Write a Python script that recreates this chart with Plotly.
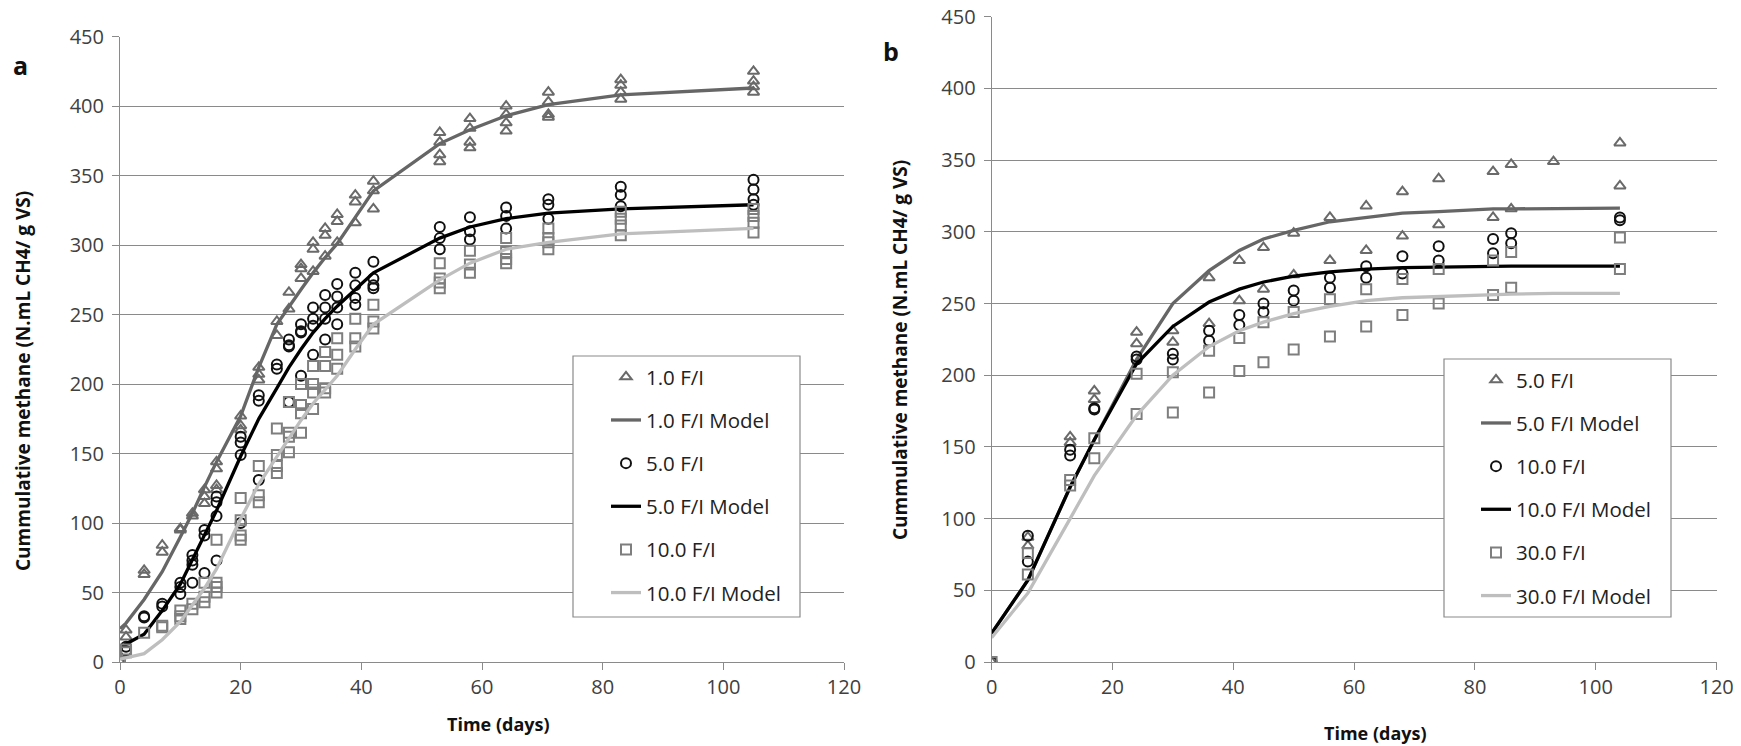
import plotly.graph_objects as go

# ---------------- Panel a data ----------------
A_DAYS = [0, 1, 4, 7, 10, 12, 14, 16, 20, 23, 26, 28, 30, 32, 34, 36, 39, 42, 53, 58, 64, 71, 83, 105]

A_FI1_OBS = [[0], [23, 18], [66, 63], [84, 79], [96, 95], [107, 105], [124, 119, 114],
             [144, 139, 127, 124], [177, 170, 167], [212, 207, 203], [245, 235], [266, 254],
             [286, 283, 276], [302, 297, 281], [312, 307, 292], [322, 317, 302], [336, 331, 316],
             [346, 339, 326], [381, 374, 365, 360], [391, 384, 374, 370], [400, 394, 388, 382],
             [410, 403, 394, 392], [419, 415, 410, 405], [425, 418, 414, 410]]
A_FI5_OBS = [[0], [11, 8], [33, 32], [42, 40], [57, 54, 49], [77, 73, 70, 57], [95, 91, 64],
             [119, 115, 105, 73], [162, 158, 149, 100], [192, 188, 131], [214, 211],
             [232, 228, 227, 187], [243, 238, 237, 206], [255, 247, 242, 221], [264, 255, 247, 232],
             [272, 263, 255, 243], [280, 271, 262, 257], [288, 276, 271, 269], [313, 305, 297],
             [320, 310, 304], [327, 321, 312], [333, 329, 319], [342, 336, 328], [347, 340, 333, 329]]
A_FI10_OBS = [[0], [9, 7], [21], [26, 25], [37, 33, 31], [42, 38], [57, 47, 43], [88, 57, 54, 50],
              [118, 102, 91, 88], [141, 120, 115], [168, 149, 141, 136], [187, 165, 162, 151],
              [200, 185, 179, 165], [213, 200, 194, 182], [223, 213, 197, 194], [233, 221, 211],
              [247, 233, 227], [257, 245, 240], [287, 276, 273, 269], [296, 286, 280],
              [305, 295, 290, 287], [312, 305, 302, 297], [324, 319, 314, 307], [326, 321, 316, 309]]

A_FI1_MODEL = [24, 28, 45, 65, 90, 107, 126, 144, 177, 212, 243, 256, 268, 280, 291, 301, 320, 339,
               373, 383, 393, 401, 408, 413]
A_FI5_MODEL = [10, 13, 20, 37, 56, 74, 92, 109, 148, 175, 197, 212, 225, 237, 247, 256, 268, 280,
               305, 313, 319, 323, 326, 329]
A_FI10_MODEL = [2, 3, 6, 16, 29, 41, 53, 67, 103, 128, 148, 161, 174, 186, 196, 206, 225, 243,
                275, 287, 297, 302, 308, 312]

# ---------------- Panel b data ----------------
B_DAYS = [0, 6, 13, 17, 24, 30, 36, 41, 45, 50, 56, 62, 68, 74, 83, 86, 93, 104]

B_FI5_OBS = [[0], [87, 81], [157, 153], [189, 183], [230, 222], [231, 223], [268, 236], [280, 252],
             [289, 260], [299, 270], [310, 280], [318, 287], [328, 297], [337, 305], [342, 310],
             [347, 316], [349], [362, 332]]
B_FI10_OBS = [[0], [88, 70], [148, 144], [177, 176], [213, 211], [215, 211], [231, 224], [242, 235],
              [250, 244], [259, 252], [268, 261], [276, 268], [283, 271], [290, 280], [295, 285],
              [299, 292], [], [310, 308]]
B_FI30_OBS = [[0], [76, 61], [127, 123], [156, 142], [201, 173], [202, 174], [217, 188], [226, 203],
              [237, 209], [244, 218], [253, 227], [260, 234], [267, 242], [274, 250], [280, 256],
              [286, 261], [], [296, 274]]

B_FI5_MODEL = [20, 57, 122, 155, 211, 250, 273, 287, 295, 301, 307, 310, 313, 314, 316, 316, 316, 316.5]
B_FI10_MODEL = [20, 57, 122, 155, 208, 234, 251, 260, 265, 269, 272, 274, 275, 275.5, 276, 276, 276, 276]
B_FI30_MODEL = [17, 48, 100, 130, 172, 200, 220, 231, 237, 243, 248, 252, 254, 255, 256, 256.5, 257, 257]

A_NAMES = ["1.0 F/I", "5.0 F/I", "10.0 F/I"]
B_NAMES = ["5.0 F/I", "10.0 F/I", "30.0 F/I"]

X_TICKS = [0, 20, 40, 60, 80, 100, 120]
Y_TICKS = [0, 50, 100, 150, 200, 250, 300, 350, 400, 450]

W, H = 1741, 746
FONT = "Open Sans"


def flatten(days, obs):
    xs, ys = [], []
    for d, reps in zip(days, obs):
        for v in reps:
            xs.append(d)
            ys.append(v)
    return xs, ys


MARKERS = [("triangle-up-open", "#6a6a6a"), ("circle-open", "#111111"), ("square-open", "#7e7e7e")]
LINE_COLORS = ["#666666", "#000000", "#bebebe"]

fig = go.Figure()


def add_panel(days, obs_list, model_list, names, xa, ya, legend):
    for i in range(3):
        xs, ys = flatten(days, obs_list[i])
        sym, col = MARKERS[i]
        fig.add_trace(go.Scatter(
            x=xs, y=ys, mode="markers", name=names[i], xaxis=xa, yaxis=ya, legend=legend,
            legendgroup=legend + "o" + str(i),
            marker=dict(symbol=sym, size=10, color=col, line=dict(width=2, color=col)),
        ))
        fig.add_trace(go.Scatter(
            x=days, y=model_list[i], mode="lines", name=names[i] + " Model", xaxis=xa, yaxis=ya,
            legend=legend, legendgroup=legend + "m" + str(i),
            line=dict(color=LINE_COLORS[i], width=3.3),
        ))


add_panel(A_DAYS, [A_FI1_OBS, A_FI5_OBS, A_FI10_OBS], [A_FI1_MODEL, A_FI5_MODEL, A_FI10_MODEL],
          A_NAMES, "x", "y", "legend")
add_panel(B_DAYS, [B_FI5_OBS, B_FI10_OBS, B_FI30_OBS], [B_FI5_MODEL, B_FI10_MODEL, B_FI30_MODEL],
          B_NAMES, "x2", "y2", "legend2")

GRID = "#8a8a8a"
tickfont = dict(family=FONT, size=20, color="#404040")


def xaxis(domain, anchor):
    return dict(domain=domain, anchor=anchor, range=[0, 120], tickvals=X_TICKS, showgrid=False,
                zeroline=False, showline=True, linecolor=GRID, linewidth=1, ticks="outside",
                ticklen=7, tickcolor=GRID, tickfont=tickfont, fixedrange=True, automargin=False)


def yaxis(domain, anchor):
    return dict(domain=domain, anchor=anchor, range=[0, 450], tickvals=Y_TICKS, showgrid=True,
                gridcolor=GRID, gridwidth=1, zeroline=False, showline=True, linecolor=GRID,
                linewidth=1, ticks="outside", ticklen=7, tickcolor=GRID, tickfont=tickfont,
                ticklabelstandoff=4, fixedrange=True, automargin=False)


ax_l, ax_r = 120 / W, 844 / W
bx_l, bx_r = 991.6 / W, 1716.6 / W
y_bot = 1 - 662 / H
ay_top = 1 - 36.6 / H
by_top = 1 - 16.7 / H

legfont = dict(family=FONT, size=20.5, color="#222222")


def legend_cfg(text_left_px, top_px):
    return dict(x=(text_left_px - 40) / W, y=1 - top_px / H, xanchor="left", yanchor="top",
                bgcolor="rgba(0,0,0,0)", borderwidth=0, font=legfont, traceorder="grouped",
                tracegroupgap=13.5, itemwidth=30)


fig.update_layout(
    width=W, height=H, margin=dict(l=0, r=0, t=0, b=0, pad=0, autoexpand=False),
    paper_bgcolor="white", plot_bgcolor="white",
    xaxis=xaxis([ax_l, ax_r], "y"), yaxis=yaxis([y_bot, ay_top], "x"),
    xaxis2=xaxis([bx_l, bx_r], "y2"), yaxis2=yaxis([y_bot, by_top], "x2"),
    legend=legend_cfg(646, 357), legend2=legend_cfg(1516, 360),
    showlegend=True,
)

# legend boxes
for (x0, x1, y0, y1) in [(573, 800, 356, 617), (1444, 1671, 359, 617)]:
    fig.add_shape(type="rect", xref="paper", yref="paper", x0=x0 / W, x1=x1 / W,
                  y0=1 - y1 / H, y1=1 - y0 / H, line=dict(color=GRID, width=1.2),
                  fillcolor="white", layer="above")

titlefont_y = dict(family=FONT, size=19, color="#111111")
titlefont_x = dict(family=FONT, size=18, color="#111111")
ann = [
    dict(text="<b>Cummulative methane (N.mL CH4/ g VS)</b>", x=23 / W, y=1 - 381 / H, textangle=-90,
         font=titlefont_y),
    dict(text="<b>Cummulative methane (N.mL CH4/ g VS)</b>", x=900 / W, y=1 - 350 / H, textangle=-90,
         font=titlefont_y),
    dict(text="<b>Time (days)</b>", x=498 / W, y=1 - 724 / H, font=titlefont_x),
    dict(text="<b>Time (days)</b>", x=1375 / W, y=1 - 733 / H, font=titlefont_x),
    dict(text="<b>a</b>", x=20 / W, y=1 - 65 / H, font=dict(family=FONT, size=25, color="#111111")),
    dict(text="<b>b</b>", x=891 / W, y=1 - 51 / H, font=dict(family=FONT, size=25, color="#111111")),
]
for a in ann:
    a.update(xref="paper", yref="paper", showarrow=False, xanchor="center", yanchor="middle")
    fig.add_annotation(**a)

fig.write_html("out.html", config={"displayModeBar": False, "staticPlot": True},
               post_script="document.body.style.margin='0';document.body.style.overflow='hidden';")
